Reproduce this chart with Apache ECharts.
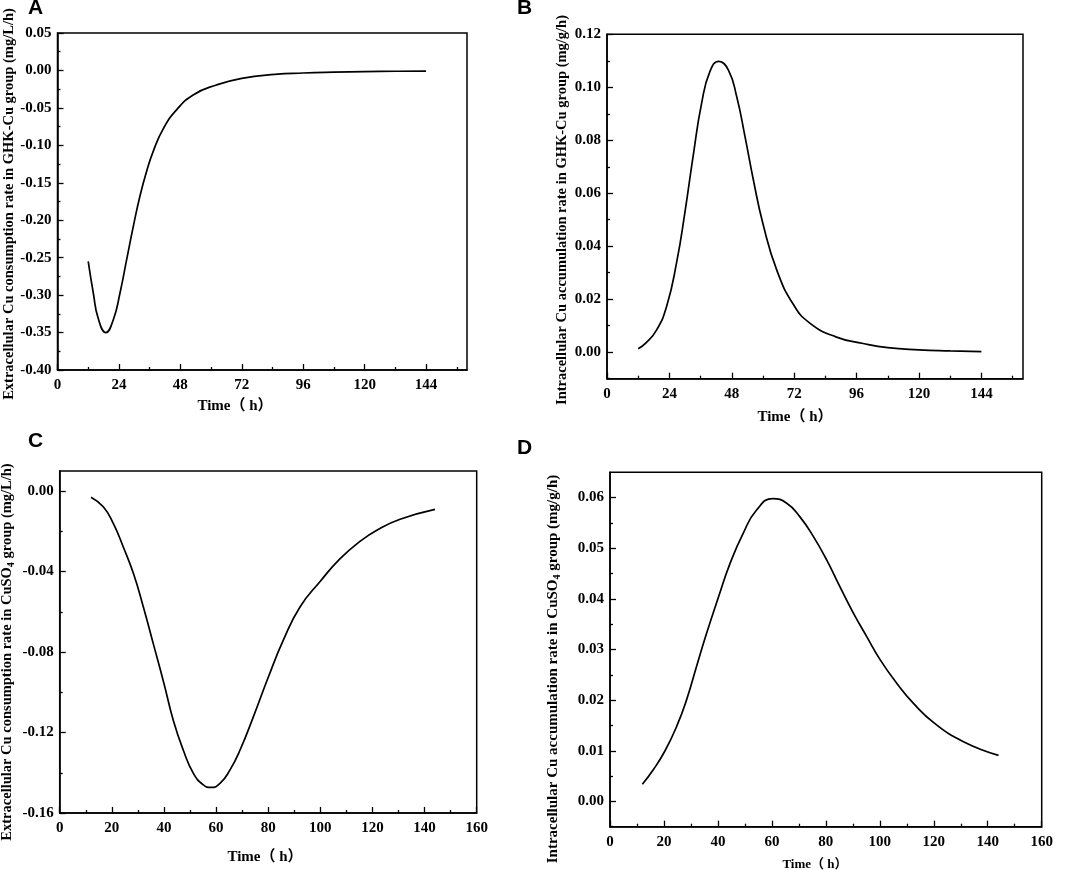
<!DOCTYPE html>
<html>
<head>
<meta charset="utf-8">
<script src="https://cdn.jsdelivr.net/npm/echarts@6/dist/echarts.min.js"></script>
<style>
    html, body { margin: 0; padding: 0; background: #fff; }
    #main { width: 1065px; height: 870px; }
</style>
</head>
<body>
<div id="main"></div>
<script>
// A: extracellular Cu, GHK-Cu group
var timeA = [12, 14, 15.9, 18.9, 21.8, 24.4, 27.0, 29.6, 32.2, 34.8, 37.4, 41.3, 46.5, 53, 62.1, 72, 84.9, 96, 108, 120, 132, 144];
var rateA = [-0.255, -0.2975, -0.331, -0.350, -0.333, -0.2975, -0.253, -0.2086, -0.168, -0.135, -0.108, -0.078, -0.0527, -0.0327, -0.0194, -0.0105, -0.0052, -0.0034, -0.0023, -0.0016, -0.0011, -0.0008];
// B: intracellular Cu, GHK-Cu group
var timeB = [12, 15, 19.1, 23, 26.8, 30, 33.2, 36.4, 39.6, 43, 46.7, 49.9, 53.1, 56.3, 60.1, 65.3, 71.7, 78, 88, 98.5, 108, 120, 132, 144];
var rateB = [0.0013, 0.0035, 0.0084, 0.0175, 0.034, 0.053, 0.0745, 0.094, 0.106, 0.1098, 0.1065, 0.0964, 0.0813, 0.065, 0.048, 0.031, 0.018, 0.011, 0.0058, 0.0033, 0.0017, 0.0009, 0.0005, 0.0002];
// C: extracellular Cu, CuSO4 group
var timeC = [12, 16.8, 20.6, 24.4, 28.3, 32.1, 35.9, 40, 43.6, 47.4, 51.3, 55.1, 58.1, 61.5, 65.3, 69.2, 74.3, 80.1, 85.8, 92.2, 100, 107.5, 115.2, 122, 130.6, 144];
var rateC = [-0.0030, -0.0079, -0.0162, -0.0278, -0.041, -0.0576, -0.0758, -0.0956, -0.114, -0.1287, -0.1403, -0.146, -0.1473, -0.1453, -0.1387, -0.1287, -0.1122, -0.0923, -0.0741, -0.0576, -0.0448, -0.0337, -0.0250, -0.0192, -0.0140, -0.0091];
// D: intracellular Cu, CuSO4 group
var timeD = [12, 16.1, 20.3, 24.7, 28.4, 32.1, 35.8, 40.3, 44.5, 49.4, 54.4, 60.3, 65.5, 70.4, 75.4, 80.3, 85.2, 90.2, 95.1, 100.1, 106.2, 112.4, 120.1, 131, 144];
var rateD = [0.0034, 0.0063, 0.0099, 0.0148, 0.0201, 0.0267, 0.0332, 0.0405, 0.047, 0.053, 0.0576, 0.0598, 0.0589, 0.0562, 0.0523, 0.0477, 0.0424, 0.0372, 0.0326, 0.028, 0.0234, 0.0194, 0.0155, 0.0118, 0.0091];

// tick labels / tick marks
var xTicksAB = [0, 24, 48, 72, 96, 120, 144];
var xMinorAB = [12, 36, 60, 84, 108, 132, 156];
var xTicksCD = [0, 20, 40, 60, 80, 100, 120, 140, 160];
var xMinorCD = [10, 30, 50, 70, 90, 110, 130, 150];
var yTicksA = [-0.40, -0.35, -0.30, -0.25, -0.20, -0.15, -0.10, -0.05, 0.00, 0.05];
var yMinorA = [-0.375, -0.325, -0.275, -0.225, -0.175, -0.125, -0.075, -0.025, 0.025];
var yTicksB = [0.00, 0.02, 0.04, 0.06, 0.08, 0.10, 0.12];
var yMinorB = [-0.01, 0.01, 0.03, 0.05, 0.07, 0.09, 0.11];
var yTicksC = [-0.16, -0.12, -0.08, -0.04, 0.00];
var yMinorC = [-0.14, -0.10, -0.06, -0.02];
var yTicksD = [0.00, 0.01, 0.02, 0.03, 0.04, 0.05, 0.06];
var yMinorD = [-0.005, 0.005, 0.015, 0.025, 0.035, 0.045, 0.055];

var serif = '"Liberation Serif", "Noto Sans CJK SC", serif';
var sans = '"Liberation Sans", Arial, sans-serif';

var panels = [
    { box: [57.5, 33, 409.5, 337], time: timeA, rate: rateA, xMin: 0, xMax: 160, yMin: -0.40, yMax: 0.05,
      xTicks: xTicksAB, xMinor: xMinorAB, yTicks: yTicksA, yMinor: yMinorA },
    { box: [607, 34.3, 416, 344.4], time: timeB, rate: rateB, xMin: 0, xMax: 160, yMin: -0.01, yMax: 0.12,
      xTicks: xTicksAB, xMinor: xMinorAB, yTicks: yTicksB, yMinor: yMinorB },
    { box: [59.7, 471, 417, 342], time: timeC, rate: rateC, xMin: 0, xMax: 160, yMin: -0.16, yMax: 0.01,
      xTicks: xTicksCD, xMinor: xMinorCD, yTicks: yTicksC, yMinor: yMinorC },
    { box: [610, 472.3, 431.7, 354.4], time: timeD, rate: rateD, xMin: 0, xMax: 160, yMin: -0.005, yMax: 0.065,
      xTicks: xTicksCD, xMinor: xMinorCD, yTicks: yTicksD, yMinor: yMinorD }
];

function pairs(xs, ys) {
    var res = [];
    for (var i = 0; i < xs.length; i++) {
        res.push([xs[i], ys[i]]);
    }
    return res;
}

var grids = [], xAxes = [], yAxes = [], series = [];

for (var i = 0; i < panels.length; i++) {
    var p = panels[i];
    grids.push({
        left: p.box[0], top: p.box[1], width: p.box[2], height: p.box[3],
        show: true, borderColor: '#000', borderWidth: 1.5, backgroundColor: 'transparent'
    });
    // major axis with labels
    xAxes.push({
        type: 'value', gridIndex: i, position: 'bottom', min: p.xMin, max: p.xMax,
        axisLine: { show: true, onZero: false, lineStyle: { color: '#000', width: 1.5 } },
        axisTick: { show: true, inside: true, length: 6, customValues: p.xTicks, lineStyle: { color: '#000', width: 1.3 } },
        axisLabel: { customValues: p.xTicks, color: '#000', fontFamily: serif, fontWeight: 'bold', fontSize: 15, margin: 8 },
        splitLine: { show: false }
    });
    // minor ticks only
    xAxes.push({
        type: 'value', gridIndex: i, position: 'bottom', offset: 0, min: p.xMin, max: p.xMax,
        axisLine: { show: false, onZero: false },
        axisTick: { show: true, inside: true, length: 3, customValues: p.xMinor, lineStyle: { color: '#000', width: 1.3 } },
        axisLabel: { show: false },
        splitLine: { show: false }
    });
    yAxes.push({
        type: 'value', gridIndex: i, position: 'left', min: p.yMin, max: p.yMax,
        axisLine: { show: true, onZero: false, lineStyle: { color: '#000', width: 1.5 } },
        axisTick: { show: true, inside: true, length: 6, customValues: p.yTicks, lineStyle: { color: '#000', width: 1.3 } },
        axisLabel: {
            customValues: p.yTicks, color: '#000', fontFamily: serif, fontWeight: 'bold', fontSize: 15, margin: 6,
            formatter: function (v) { return v.toFixed(2); }
        },
        splitLine: { show: false }
    });
    yAxes.push({
        type: 'value', gridIndex: i, position: 'left', offset: 0, min: p.yMin, max: p.yMax,
        axisLine: { show: false, onZero: false },
        axisTick: { show: true, inside: true, length: 3, customValues: p.yMinor, lineStyle: { color: '#000', width: 1.3 } },
        axisLabel: { show: false },
        splitLine: { show: false }
    });
    series.push({
        type: 'line',
        xAxisIndex: 2 * i,
        yAxisIndex: 2 * i,
        data: pairs(p.time, p.rate),
        smooth: true,
        showSymbol: false,
        symbol: 'none',
        lineStyle: { color: '#000', width: 1.7 }
    });
}

function letter(txt, x, y) {
    return { type: 'text', x: x, y: y, style: { text: txt, fill: '#000', fontFamily: sans, fontWeight: 'bold', fontSize: 21, verticalAlign: 'top' } };
}

function yTitle(txt, x, y, size) {
    return {
        type: 'text', x: x, y: y, rotation: Math.PI / 2,
        style: {
            text: txt, fill: '#000', fontFamily: serif, fontWeight: 'bold', fontSize: size, lineHeight: 18,
            align: 'center', verticalAlign: 'middle',
            rich: { sub: { fontFamily: serif, fontWeight: 'bold', fontSize: 10, verticalAlign: 'bottom', fill: '#000' } }
        }
    };
}

function xTitle(txt, x, y, size) {
    return {
        type: 'text', x: x, y: y,
        style: { text: txt, fill: '#000', fontFamily: serif, fontWeight: 'bold', fontSize: size, align: 'center', verticalAlign: 'middle' }
    };
}

var option = {
    animation: false,
    backgroundColor: '#fff',
    grid: grids,
    xAxis: xAxes,
    yAxis: yAxes,
    series: series,
    graphic: [
        letter('A', 28, -2),
        letter('B', 517, -2),
        letter('C', 28, 431),
        letter('D', 517, 438),
        yTitle('Extracellular Cu consumption rate in GHK-Cu group (mg/L/h)', 9, 204, 14.5),
        yTitle('Intracellular Cu accumulation rate in GHK-Cu group (mg/g/h)', 562, 210, 14.5),
        yTitle('Extracellular Cu consumption rate in CuSO{sub|4} group (mg/L/h)', 7, 652, 14.5),
        yTitle('Intracellular Cu accumulation rate in CuSO{sub|4} group (mg/g/h)', 553, 669, 15),
        xTitle('Time（ h）', 235, 406, 15),
        xTitle('Time（ h）', 795, 417, 15),
        xTitle('Time（ h）', 265, 857, 15),
        xTitle('Time（ h）', 815, 865, 13)
    ]
};

var myChart = echarts.init(document.getElementById('main'));
myChart.setOption(option);
</script>
</body>
</html>
